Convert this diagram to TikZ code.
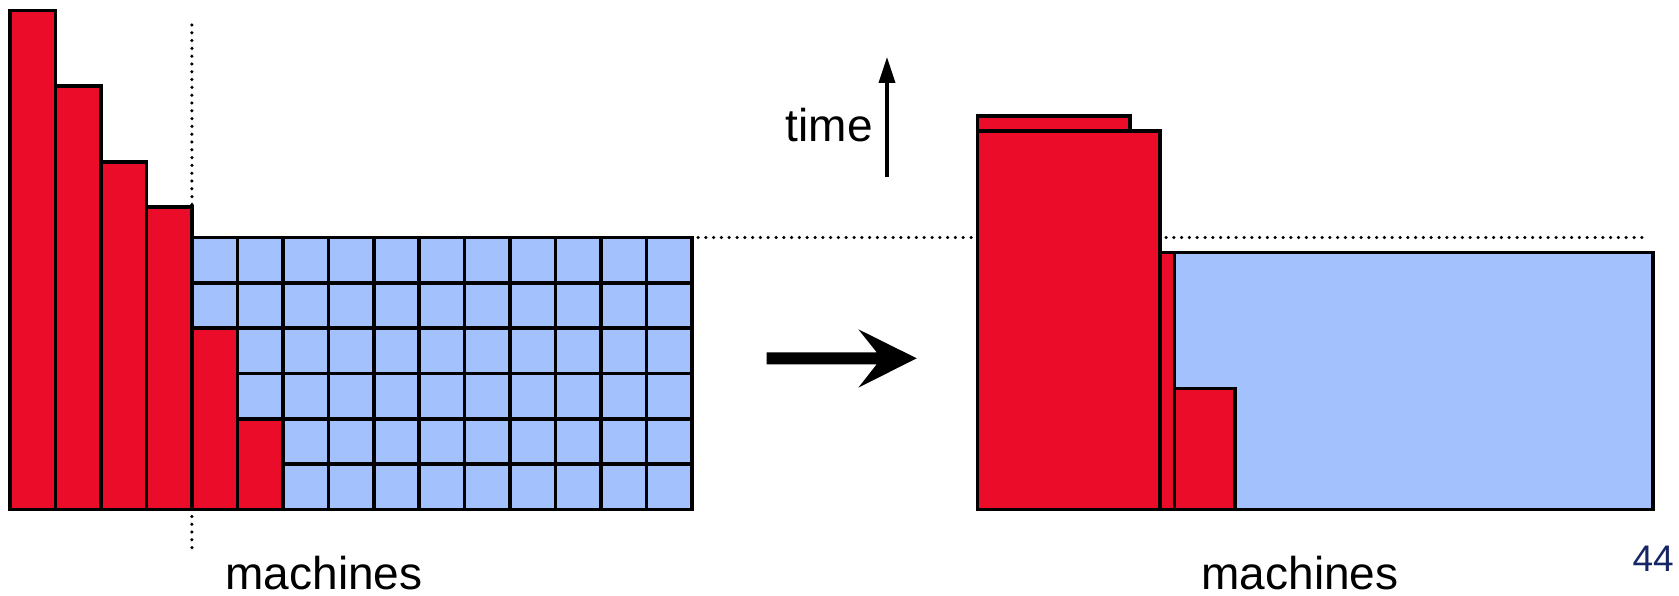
\documentclass[tikz,border=0pt]{standalone}
\usepackage{fontspec}
\setmainfont{Liberation Sans}
\usetikzlibrary{arrows.meta}
\definecolor{barred}{RGB}{234,12,40}
\definecolor{cellblue}{RGB}{163,193,253}
\definecolor{pagenum}{RGB}{22,38,100}
\begin{document}
\begin{tikzpicture}[x=1pt,y=-1pt,
  redbox/.style={fill=barred,draw=black,line width=3.5pt},
  bluebox/.style={fill=cellblue,draw=black,line width=3.5pt},
  gridline/.style={draw=black,line width=3.5pt},
  dotline/.style={line width=3.5pt,line cap=round,dash pattern=on 0pt off 7.8pt},
  lbl/.style={font=\fontsize{46}{50}\selectfont,inner sep=0pt}]
\useasboundingbox (0,0) rectangle (1679,596);
\def\u{45.47}
% dotted guide lines (behind)
\draw[dotline] (191.9,25) -- (191.9,554);
\draw[dotline] (698,237.5) -- (1647,237.5);
% left: grid of small jobs
\fill[cellblue] (191.9,237.5) rectangle (692,509.5);
\foreach \i in {4,...,15} \draw[gridline] ({10+\u*\i},237.5) -- ({10+\u*\i},509.5);
\foreach \j in {0,...,6} \draw[gridline] (191.9,{237.5+45.33*\j}) -- (692,{237.5+45.33*\j});
\draw[gridline] (191.9,237.5) rectangle (692,509.5);
% left: big jobs
\draw[redbox] (10,10.7) rectangle (55.5,509.5);
\draw[redbox] (55.5,86) rectangle (100.9,509.5);
\draw[redbox] (100.9,162) rectangle (146.4,509.5);
\draw[redbox] (146.4,207) rectangle (191.9,509.5);
\draw[redbox] (191.9,328.2) rectangle (237.4,509.5);
\draw[redbox] (237.4,418.8) rectangle (282.8,509.5);
% middle arrow
\fill[black] (916.7,358.3) -- (858.3,329.3) -- (876.7,352.3) -- (766.7,352.3) -- (766.7,364.3) -- (876.7,364.3) -- (858.3,387.7) -- cycle;
% time axis
\coordinate (tb) at (887,177);
\coordinate (tt) at (887,57);
\draw[line width=3.5pt,-{Triangle[length=26pt,width=16pt]}] (tb) -- (tt);
\node[lbl,anchor=base east] (time) at (873,141.7) {time};
% right side
\draw[redbox] (977.7,116) rectangle (1130,131);
\draw[redbox] (977.7,131) rectangle (1160,509.5);
\draw[redbox] (1160,252.3) rectangle (1174.3,509.5);
\draw[bluebox] (1174.3,252.3) rectangle (1653,509.5);
\draw[redbox] (1174.3,388.3) rectangle (1235,509.5);
% labels
\node[lbl,anchor=base] (m1) at (324,589) {machines};
\node[lbl,anchor=base] (m2) at (1300,589) {machines};
\node[font=\fontsize{37}{40}\selectfont,text=pagenum,inner sep=0pt,anchor=base east] (pg) at (1674,571.7) {44};
\end{tikzpicture}
\end{document}
